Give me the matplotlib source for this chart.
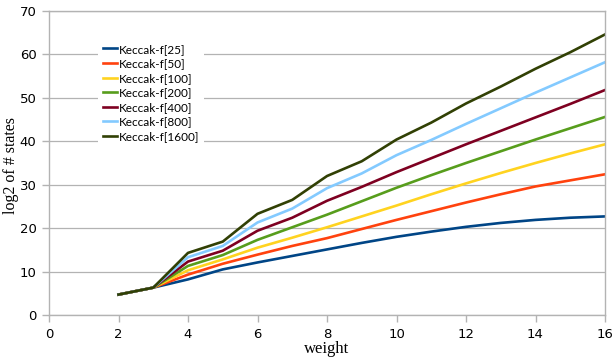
import matplotlib
matplotlib.use("Agg")
import matplotlib.pyplot as plt
from matplotlib import font_manager as fm

weights = [2, 3, 4, 5, 6, 7, 8, 9, 10, 11, 12, 13, 14, 15, 16]
names = ["Keccak-f[25]", "Keccak-f[50]", "Keccak-f[100]", "Keccak-f[200]",
         "Keccak-f[400]", "Keccak-f[800]", "Keccak-f[1600]"]
f25 = [4.7, 6.3, 8.2, 10.5, 12.1, 13.6, 15.1, 16.6, 18.0, 19.2, 20.3, 21.2, 21.9, 22.4, 22.7]
f50 = [4.7, 6.3, 9.3, 11.8, 13.9, 15.9, 17.7, 19.8, 21.9, 23.9, 25.9, 27.8, 29.6, 31.0, 32.4]
f100 = [4.7, 6.3, 10.3, 12.8, 15.5, 17.8, 20.2, 22.7, 25.2, 27.8, 30.3, 32.7, 35.0, 37.2, 39.3]
f200 = [4.7, 6.3, 11.3, 13.8, 17.3, 20.2, 23.1, 26.2, 29.3, 32.2, 35.0, 37.7, 40.4, 43.0, 45.6]
f400 = [4.7, 6.3, 12.3, 14.8, 19.4, 22.4, 26.3, 29.5, 32.9, 36.1, 39.3, 42.4, 45.5, 48.6, 51.8]
f800 = [4.7, 6.3, 13.3, 15.9, 21.3, 24.5, 29.2, 32.6, 36.8, 40.3, 44.0, 47.6, 51.2, 54.7, 58.2]
f1600 = [4.7, 6.3, 14.3, 16.9, 23.3, 26.5, 32.0, 35.4, 40.4, 44.3, 48.7, 52.6, 56.7, 60.5, 64.6]
series = [f25, f50, f100, f200, f400, f800, f1600]
colors = ["#004586", "#ff420e", "#ffd320", "#579d1c", "#7e0021", "#83caff", "#314004"]

x_ticks = list(range(0, 17, 2))
y_ticks = list(range(0, 71, 10))

installed = {f.name for f in fm.fontManager.ttflist}
leg_family = "Liberation Sans Narrow" if "Liberation Sans Narrow" in installed else "Lato"
leg_size = 10 if leg_family == "Liberation Sans Narrow" else 8.5

fig = plt.figure(figsize=(6.15, 3.57), dpi=100)
ax = fig.add_axes([49/615, 1-315/357, (605-49)/615, (315-11)/357])

for vals, name, c in zip(series, names, colors):
    ax.plot(weights, vals, color=c, lw=1.9, label=name, solid_joinstyle="round")

ax.set_xlim(0, 16)
ax.set_ylim(0, 70)
ax.set_xticks(x_ticks)
ax.set_yticks(y_ticks)
ax.grid(axis="y", color="#b3b3b3", lw=0.9)
ax.set_axisbelow(True)
for s in ax.spines.values():
    s.set_color("#b3b3b3")
    s.set_linewidth(1.0)
ax.tick_params(colors="#b3b3b3", labelcolor="black", labelsize=9.5, length=5, width=1.0)
ax.tick_params(axis="x", pad=4)
ax.tick_params(axis="y", pad=4)
fig.text(327/615, 1-349/357, "weight", fontsize=12, family="Liberation Serif",
         ha="center", va="center")
fig.text(11/615, 1-165/357, "log2 of # states", fontsize=11.5, family="Liberation Serif",
         ha="center", va="center", rotation=90)

leg = ax.legend(loc="upper left", bbox_to_anchor=(43/556, 1-22/304), frameon=True,
                handlelength=1.2, handletextpad=0.2, labelspacing=0.3,
                borderpad=0.4, prop={"family": leg_family, "size": leg_size})
leg.get_frame().set_edgecolor("none")
leg.get_frame().set_facecolor("white")
leg.get_frame().set_alpha(1)

fig.savefig("out.png", dpi=100)
